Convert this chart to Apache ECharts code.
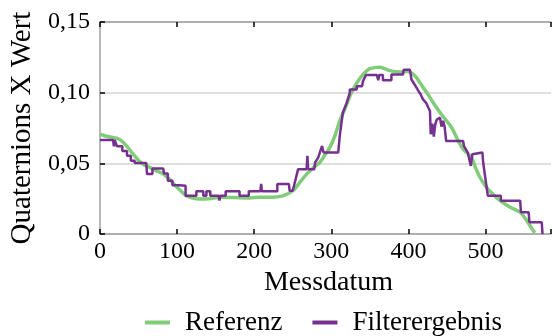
<!DOCTYPE html>
<html>
<head>
<meta charset="utf-8">
<script src="https://cdn.jsdelivr.net/npm/echarts@6/dist/echarts.min.js"></script>
<style>
  html, body { margin: 0; padding: 0; background: #fff; }
  #chart { width: 552px; height: 336px; }
</style>
</head>
<body>
<div id="chart"></div>
<script>
// Reference trajectory (smooth) as [Messdatum, value]
const referenz = [
  [0,0.0706],[10,0.069],[25,0.067],[35,0.062],[43,0.0565],[50,0.052],[56,0.0494],[65,0.047],
  [73,0.0447],[82,0.0425],[90,0.0389],[100,0.033],[112,0.0271],[120,0.0255],[129,0.0248],
  [145,0.0252],[159,0.026],[175,0.0258],[194,0.0255],[207,0.026],[222,0.026],[237,0.027],
  [250,0.0306],[260,0.037],[268,0.0424],[277,0.047],[285,0.0506],[292,0.056],[298,0.0611],
  [305,0.070],[311,0.080],[318,0.089],[324,0.0975],[330,0.104],[337,0.110],[343,0.114],
  [350,0.117],[363,0.118],[376,0.1156],[389,0.1147],[398,0.115],[404,0.114],[410,0.111],
  [415,0.107],[424,0.0999],[434,0.0915],[441,0.086],[448,0.081],[456,0.0755],[465,0.0655],
  [471,0.060],[482,0.054],[487,0.047],[493,0.040],[500,0.034],[506,0.0300],[519,0.0236],
  [532,0.019],[545,0.0154],[555,0.0083],[560,0.004],[564,0.0008]
];

// Filter output (piecewise constant) as [Messdatum, value]
const filterergebnis = [
  [0,0.0665],[17,0.0665],[18,0.062],[19,0.0665],[21,0.0665],[22,0.062],[29,0.062],[29,0.0588],
  [35,0.0588],[35,0.0553],[40,0.0553],[40,0.0518],[45,0.0518],[45,0.0503],[60,0.0503],
  [61,0.0424],[68,0.0424],[68,0.0463],[82,0.0463],[83,0.0428],[88,0.0428],[88,0.0377],
  [94,0.0377],[94,0.0345],[103,0.0345],[104,0.0342],[111,0.0342],[111,0.0271],[125,0.0271],
  [125,0.0302],[134,0.0302],[134,0.0271],[138,0.0271],[138,0.0302],[143,0.0302],[143,0.0271],
  [154,0.0271],[155,0.0236],[156,0.0271],[163,0.0271],[163,0.0302],[181,0.0302],[181,0.0271],
  [193,0.0271],[193,0.0302],[208,0.0302],[209,0.0354],[210,0.0302],[230,0.0302],[230,0.0354],
  [245,0.0354],[246,0.0306],[250,0.0306],[257,0.0459],[268,0.0459],[269,0.0553],[270,0.0459],
  [278,0.0459],[279,0.0506],[283,0.0541],[285,0.0553],[288,0.0623],[290,0.0576],[309,0.0576],
  [311,0.0694],[315,0.0858],[320,0.0928],[324,0.0999],[324,0.1022],[333,0.1022],[333,0.1046],
  [340,0.1046],[341,0.108],[345,0.1125],[359,0.1125],[361,0.1088],[362,0.1125],[367,0.1125],
  [367,0.1088],[378,0.1088],[378,0.1128],[393,0.1128],[394,0.1163],[402,0.1163],[404,0.1093],
  [408,0.1058],[412,0.1022],[416,0.0987],[419,0.0952],[423,0.0928],[426,0.0893],[428,0.087],
  [429,0.0706],[431,0.078],[433,0.069],[435,0.078],[437,0.081],[441,0.0823],[443,0.076],
  [445,0.08],[447,0.076],[449,0.0658],[471,0.0658],[472,0.0623],[477,0.0576],[481,0.0482],
  [483,0.0565],[485,0.0576],[496,0.0576],[497,0.0506],[503,0.0271],[520,0.0271],[520,0.0236],
  [545,0.0236],[546,0.0154],[556,0.0154],[557,0.0083],[573,0.0083],[574,0]
];

const xTicks = [0, 100, 200, 300, 400, 500];
const yTicks = [0, 0.05, 0.10, 0.15];

const serif = 'Liberation Serif';
const axisGray = '#a0a0a0';

function yLabel(v) {
  return v === 0 ? '0' : v.toFixed(2).replace('.', ',');
}

const chart = echarts.init(document.getElementById('chart'));
chart.setOption({
  animation: false,
  textStyle: { fontFamily: serif, color: '#000' },
  grid: { left: 100, right: 1, top: 22, bottom: 102 },
  legend: {
    top: 304,
    left: 140,
    itemWidth: 25,
    itemHeight: 4,
    itemGap: 30,
    icon: 'rect',
    textStyle: { fontFamily: serif, fontSize: 27, color: '#000', padding: [0, 0, 0, 10] },
    data: ['Referenz', 'Filterergebnis']
  },
  xAxis: [
    {
      type: 'value', min: 0, max: 585, interval: 100,
      name: 'Messdatum', nameLocation: 'middle', nameGap: 29,
      nameTextStyle: { fontFamily: serif, fontSize: 28, color: '#000', padding: [0, 0, 0, 6] },
      axisLine: { lineStyle: { color: axisGray, width: 1.5 } },
      axisTick: { inside: true, length: 5, lineStyle: { color: '#000', width: 1.5 } },
      axisLabel: { fontFamily: serif, fontSize: 24, color: '#000', margin: 6,
        customValues: xTicks },
      splitLine: { show: false }
    },
    {
      type: 'value', min: 0, max: 585, interval: 100, position: 'top',
      axisLine: { lineStyle: { color: axisGray, width: 1.5 } },
      axisTick: { inside: true, length: 5, lineStyle: { color: '#000', width: 1.5 } },
      axisLabel: { show: false },
      splitLine: { show: false }
    }
  ],
  yAxis: {
    type: 'value', min: 0, max: 0.15, interval: 0.05,
    name: 'Quaternions X Wert', nameLocation: 'middle', nameGap: 58, nameRotate: 90,
    nameTextStyle: { fontFamily: serif, fontSize: 29, color: '#000' },
    axisLine: { show: true, lineStyle: { color: axisGray, width: 1.5 } },
    axisTick: { show: true, inside: true, length: 5, lineStyle: { color: '#000', width: 1.5 } },
    axisLabel: { fontFamily: serif, fontSize: 24, color: '#000', margin: 10,
      formatter: yLabel, customValues: yTicks },
    splitLine: { show: true, lineStyle: { color: '#d4d4d4', width: 1.5 } }
  },
  series: [
    {
      name: 'Referenz', type: 'line', data: referenz, smooth: 0.3,
      showSymbol: false, symbol: 'none',
      lineStyle: { color: '#80cc78', width: 3.5 },
      itemStyle: { color: '#80cc78' }
    },
    {
      name: 'Filterergebnis', type: 'line', data: filterergebnis,
      showSymbol: false, symbol: 'none',
      lineStyle: { color: '#76308f', width: 2.5 },
      itemStyle: { color: '#76308f' }
    }
  ]
});
</script>
</body>
</html>
